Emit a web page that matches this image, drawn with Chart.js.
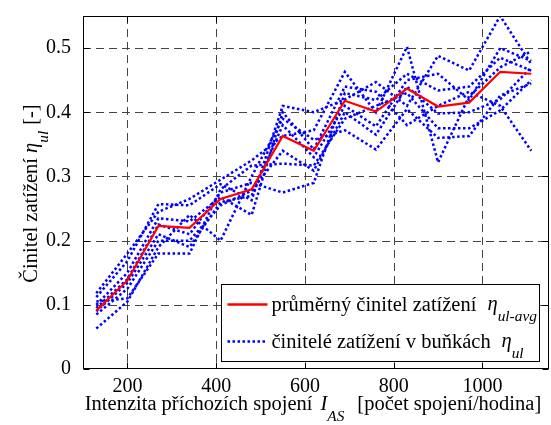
<!DOCTYPE html>
<html lang="cs">
<head>
<meta charset="UTF-8">
<title>Činitel zatížení v buňkách</title>
<style>
  body { margin: 0; background: #fff; }
  canvas { display: block; }
</style>
</head>
<body>
<canvas id="chart" width="551" height="425"></canvas>
<script src="https://cdn.jsdelivr.net/npm/chart.js"></script>
<script>
// intenzita příchozích spojení [spojení/hodina]
const intensity = [130, 200, 270, 340, 410, 480, 550, 620, 690, 760, 830, 900, 970, 1040, 1110];

// průměrný činitel zatížení
const avgLoad = [0.091, 0.138, 0.223, 0.220, 0.265, 0.280, 0.363, 0.340, 0.418, 0.401, 0.437, 0.409, 0.415, 0.463, 0.460];

// činitelé zatížení v jednotlivých buňkách
const cell1 = [0.112, 0.168, 0.257, 0.255, 0.288, 0.263, 0.410, 0.400, 0.420, 0.447, 0.410, 0.488, 0.465, 0.550, 0.475];
const cell2 = [0.118, 0.180, 0.245, 0.265, 0.295, 0.325, 0.363, 0.372, 0.463, 0.400, 0.502, 0.322, 0.425, 0.470, 0.495];
const cell3 = [0.100, 0.150, 0.235, 0.230, 0.268, 0.240, 0.400, 0.342, 0.440, 0.432, 0.380, 0.410, 0.432, 0.410, 0.340];
const cell4 = [0.095, 0.140, 0.225, 0.210, 0.275, 0.290, 0.275, 0.290, 0.430, 0.419, 0.460, 0.434, 0.440, 0.485, 0.465];
const cell5 = [0.090, 0.134, 0.210, 0.190, 0.260, 0.270, 0.380, 0.330, 0.410, 0.378, 0.450, 0.460, 0.419, 0.500, 0.480];
const cell6 = [0.085, 0.125, 0.200, 0.200, 0.255, 0.278, 0.340, 0.309, 0.400, 0.365, 0.440, 0.398, 0.400, 0.420, 0.470];
const cell7 = [0.105, 0.110, 0.180, 0.180, 0.280, 0.317, 0.320, 0.317, 0.390, 0.410, 0.430, 0.375, 0.375, 0.403, 0.450];
const cell8 = [0.063, 0.105, 0.190, 0.240, 0.200, 0.300, 0.390, 0.357, 0.372, 0.342, 0.405, 0.360, 0.363, 0.426, 0.445];
const cells = [cell1, cell2, cell3, cell4, cell5, cell6, cell7, cell8];

const xTicks = [200, 400, 600, 800, 1000];
const yTicks = [0, 0.1, 0.2, 0.3, 0.4, 0.5];

const FONT = "'Liberation Serif', 'DejaVu Serif', serif";
const BLUE = '#0000ff';
const RED = '#ff0000';

function pts(values) {
  return values.map((v, i) => ({ x: intensity[i], y: v }));
}

// text made of pieces: plain, italic and subscripts
function richWidth(ctx, parts, size) {
  let w = 0;
  parts.forEach(p => {
    const s = p.sub ? size * 0.75 : size;
    ctx.font = (p.italic ? 'italic ' : '') + s + 'px ' + FONT;
    w += ctx.measureText(p.text).width + (p.gap || 0);
  });
  return w;
}

function drawRich(ctx, parts, x, y, size) {
  parts.forEach(p => {
    const s = p.sub ? size * 0.75 : size;
    ctx.font = (p.italic ? 'italic ' : '') + s + 'px ' + FONT;
    ctx.fillText(p.text, x, p.sub ? y + size * 0.55 : y);
    x += ctx.measureText(p.text).width + (p.gap || 0);
  });
}

const xTitle = [
  { text: 'Intenzita příchozích spojení', gap: 8 },
  { text: 'I', italic: true, gap: 0 },
  { text: 'AS', italic: true, sub: true, gap: 13 },
  { text: '[počet spojení/hodina]' }
];
const yTitle = [
  { text: 'Činitel zatížení', gap: 5 },
  { text: 'η', italic: true, gap: 0 },
  { text: 'ul', italic: true, sub: true, gap: 6 },
  { text: '[-]' }
];
const legendRows = [
  { color: RED, dash: [], label: 'průměrný činitel zatížení', sub: 'ul-avg', etaAt: 266 },
  { color: BLUE, dash: [2.5, 2.5], label: 'činitelé zatížení v buňkách', sub: 'ul', etaAt: 280 }
];

const axesDecor = {
  id: 'axesDecor',
  beforeDatasetsDraw(chart) {
    const { ctx, chartArea: a, scales: { x, y } } = chart;
    ctx.save();
    ctx.strokeStyle = '#444';
    ctx.lineWidth = 1;
    ctx.setLineDash([8, 5]);
    xTicks.forEach(v => {
      const px = Math.round(x.getPixelForValue(v)) + 0.5;
      ctx.beginPath(); ctx.moveTo(px, a.top); ctx.lineTo(px, a.bottom); ctx.stroke();
    });
    yTicks.forEach(v => {
      if (v === 0) return;
      const py = Math.round(y.getPixelForValue(v)) + 0.5;
      ctx.beginPath(); ctx.moveTo(a.left, py); ctx.lineTo(a.right, py); ctx.stroke();
    });
    ctx.restore();
  },
  afterDatasetsDraw(chart) {
    const { ctx, chartArea: a, scales: { x, y } } = chart;
    ctx.save();
    // frame and inward ticks
    ctx.strokeStyle = '#000';
    ctx.lineWidth = 1;
    ctx.setLineDash([]);
    const L = Math.round(a.left) + 0.5, R = Math.round(a.right) - 0.5;
    const T = Math.round(a.top) + 0.5, B = Math.round(a.bottom) - 0.5;
    ctx.strokeRect(L, T, R - L, B - T);
    const tl = 6;
    ctx.beginPath();
    xTicks.forEach(v => {
      const px = Math.round(x.getPixelForValue(v)) + 0.5;
      ctx.moveTo(px, B); ctx.lineTo(px, B - tl);
      ctx.moveTo(px, T); ctx.lineTo(px, T + tl);
    });
    yTicks.forEach(v => {
      const py = Math.round(y.getPixelForValue(v)) + 0.5;
      ctx.moveTo(L, py); ctx.lineTo(L + tl, py);
      ctx.moveTo(R, py); ctx.lineTo(R - tl, py);
    });
    ctx.stroke();

    // legend
    const lr = Math.round(a.right) - 9.5, lb = Math.round(a.bottom) - 7.5;
    const ll = lr - 318, lt = lb - 77;
    ctx.fillStyle = '#fff';
    ctx.fillRect(ll, lt, lr - ll, lb - lt);
    ctx.strokeStyle = '#000';
    ctx.lineWidth = 1;
    ctx.strokeRect(ll, lt, lr - ll, lb - lt);
    ctx.textBaseline = 'alphabetic';
    ctx.textAlign = 'left';
    legendRows.forEach((row, i) => {
      const ly = lt + 20 + i * 37;
      ctx.strokeStyle = row.color;
      ctx.lineWidth = 2.5;
      ctx.setLineDash(row.dash);
      ctx.beginPath(); ctx.moveTo(ll + 6, ly); ctx.lineTo(ll + 46, ly); ctx.stroke();
      ctx.setLineDash([]);
      ctx.fillStyle = '#000';
      drawRich(ctx, [{ text: row.label }], ll + 50, ly + 6, 20.5);
      drawRich(ctx, [{ text: 'η', italic: true, gap: 0 }, { text: row.sub, italic: true, sub: true }], ll + row.etaAt, ly + 5, 20.5);
    });

    // axis titles
    ctx.fillStyle = '#000';
    const ts = 20.5;
    const xw = richWidth(ctx, xTitle, ts);
    drawRich(ctx, xTitle, (a.left + a.right) / 2 - 3 - xw / 2, 410, ts);

    const yw = richWidth(ctx, yTitle, ts);
    ctx.translate(37, (a.top + a.bottom) / 2 + 1);
    ctx.rotate(-Math.PI / 2);
    drawRich(ctx, yTitle, -yw / 2, 0, ts);
    ctx.restore();
  }
};

const datasets = [{
  label: 'průměrný činitel zatížení',
  data: pts(avgLoad),
  borderColor: RED,
  borderWidth: 2.2,
  pointRadius: 0,
  tension: 0
}];
cells.forEach((c, i) => {
  datasets.push({
    label: 'buňka ' + (i + 1),
    data: pts(c),
    borderColor: BLUE,
    borderWidth: 2.5,
    borderDash: [2.5, 2.5],
    borderCapStyle: 'butt',
    pointRadius: 0,
    tension: 0
  });
});

Chart.defaults.font.family = FONT;
Chart.defaults.color = '#000';

new Chart(document.getElementById('chart'), {
  type: 'line',
  data: { datasets },
  options: {
    responsive: false,
    animation: false,
    events: [],
    layout: { padding: { top: 11, right: 2, left: 0, bottom: 0 } },
    plugins: { legend: { display: false }, tooltip: { enabled: false } },
    scales: {
      x: {
        type: 'linear',
        min: 100,
        max: 1150,
        grid: { display: false },
        border: { display: false },
        afterBuildTicks: s => { s.ticks = xTicks.map(v => ({ value: v })); },
        afterFit: s => { s.height = 56; },
        ticks: { font: { size: 20 }, color: '#000', padding: -2, maxRotation: 0, callback: v => String(v) }
      },
      y: {
        min: 0,
        max: 0.55,
        grid: { display: false },
        border: { display: false },
        afterBuildTicks: s => { s.ticks = yTicks.map(v => ({ value: v })); },
        afterFit: s => { s.width = 83; },
        ticks: { font: { size: 20 }, color: '#000', padding: 4 }
      }
    }
  },
  plugins: [axesDecor]
});
</script>
</body>
</html>
